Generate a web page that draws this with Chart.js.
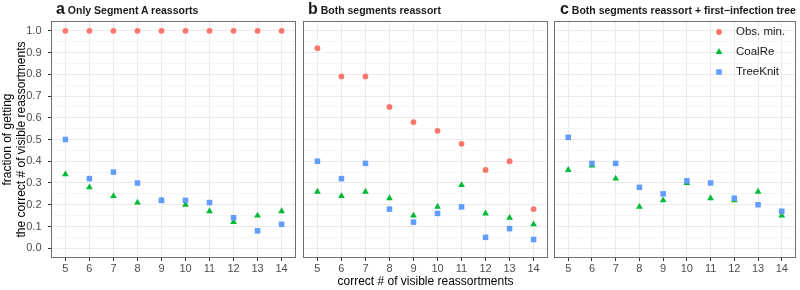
<!DOCTYPE html>
<html>
<head>
<meta charset="utf-8">
<script src="https://cdn.jsdelivr.net/npm/chart.js@4.4.0/dist/chart.umd.min.js"></script>
<style>
    body { margin: 0; background: #fff; }
    #wrap { position: relative; width: 800px; height: 290px; font-family: "Liberation Sans", Arial, sans-serif; }
    #wrap canvas { position: absolute; left: 0; top: 0; }
    .ptitle { position: absolute; top: 0; line-height: 18px; font-weight: bold; color: #1a1a1a; white-space: nowrap; }
    .ptitle b { font-size: 16px; }
    .ptitle span { font-size: 10.5px; }
</style>
</head>
<body>
<div id="wrap">
    <canvas id="chartA" width="800" height="290"></canvas>
    <canvas id="chartB" width="800" height="290"></canvas>
    <canvas id="chartC" width="800" height="290"></canvas>
    <div class="ptitle" style="left:56px"><b>a</b><span> Only Segment A reassorts</span></div>
    <div class="ptitle" style="left:308px"><b>b</b><span> Both segments reassort</span></div>
    <div class="ptitle" style="left:560px"><b>c</b><span> Both segments reassort + first−infection tree</span></div>
</div>
<script>
// correct # of visible reassortments
const counts = [5, 6, 7, 8, 9, 10, 11, 12, 13, 14];

// y grid: majors carry a label, minors in between
const yGrid = [0, 0.05, 0.1, 0.15, 0.2, 0.25, 0.3, 0.35, 0.4, 0.45, 0.5, 0.55, 0.6, 0.65, 0.7, 0.75, 0.8, 0.85, 0.9, 0.95, 1.0];
const yTickLabels = ['0.0', '0.1', '0.2', '0.3', '0.4', '0.5', '0.6', '0.7', '0.8', '0.9', '1.0'];

// panel a: Only Segment A reassorts
const obsA = [1, 1, 1, 1, 1, 1, 1, 1, 1, 1];
const coalA = [0.34, 0.28, 0.24, 0.21, 0.22, 0.20, 0.17, 0.12, 0.15, 0.17];
const treeA = [0.50, 0.32, 0.35, 0.30, 0.22, 0.22, 0.21, 0.14, 0.08, 0.11];

// panel b: Both segments reassort
const obsB = [0.92, 0.79, 0.79, 0.65, 0.58, 0.54, 0.48, 0.36, 0.40, 0.18];
const coalB = [0.26, 0.24, 0.26, 0.23, 0.15, 0.19, 0.29, 0.16, 0.14, 0.11];
const treeB = [0.40, 0.32, 0.39, 0.18, 0.12, 0.16, 0.19, 0.05, 0.09, 0.04];

// panel c: Both segments reassort + first-infection tree
const coalC = [0.36, 0.38, 0.32, 0.19, 0.22, 0.30, 0.23, 0.22, 0.26, 0.15];
const treeC = [0.51, 0.39, 0.39, 0.28, 0.25, 0.31, 0.30, 0.23, 0.20, 0.17];

const methods = ['Obs. min.', 'CoalRe', 'TreeKnit'];
const styles = {
    'Obs. min.': { color: '#F8766D', pointStyle: 'circle', radius: 2.9, order: 3 },
    'CoalRe': { color: '#00BA38', pointStyle: 'triangle', radius: 3.9, order: 2 },
    'TreeKnit': { color: '#619CFF', pointStyle: 'rect', radius: 3.9, order: 1 }
};

Chart.defaults.font.family = "'Liberation Sans', Arial, sans-serif";
Chart.defaults.animation = false;

// Panel frame (ggplot-style border round the plot area)
const frame = {
    id: 'frame',
    afterDraw(chart) {
        const a = chart.chartArea;
        const ctx = chart.ctx;
        ctx.save();
        ctx.strokeStyle = '#707070';
        ctx.lineWidth = 1;
        ctx.strokeRect(Math.round(a.left) + 0.5, Math.round(a.top) + 0.5, Math.round(a.width) - 1, Math.round(a.height) - 1);
        ctx.restore();
    }
};

// Legend drawn inside the top-right corner of panel c
const insideLegend = {
    id: 'insideLegend',
    afterDraw(chart) {
        const ctx = chart.ctx;
        ctx.save();
        methods.forEach((name, i) => {
            const s = styles[name];
            const y = 32 + i * 20;
            ctx.fillStyle = s.color;
            Chart.helpers.drawPoint(ctx, { pointStyle: s.pointStyle, radius: s.radius, rotation: 0, borderWidth: 0 }, 719, y);
            ctx.fillStyle = '#1a1a1a';
            ctx.font = "11.5px 'Liberation Sans', Arial, sans-serif";
            ctx.textBaseline = 'middle';
            ctx.textAlign = 'left';
            ctx.fillText(name, 736, y);
        });
        ctx.restore();
    }
};

function makeDataset(name, values) {
    const s = styles[name];
    return {
        label: name,
        data: counts.map((c, i) => ({ x: c, y: values[i] })),
        backgroundColor: s.color,
        pointStyle: s.pointStyle,
        pointRadius: s.radius,
        pointBorderWidth: 0,
        order: s.order
    };
}

// left/right: plot-area edges in page pixels
function makePanel(id, left, right, datasets, opts) {
    const yWidth = opts.yAxis ? left : 0;
    const plugins = [frame];
    if (opts.legend) plugins.push(insideLegend);
    return new Chart(document.getElementById(id), {
        type: 'scatter',
        data: { datasets: datasets },
        plugins: plugins,
        options: {
            responsive: false,
            layout: { padding: { left: left - yWidth, right: 800 - right, top: 21, bottom: 0 } },
            plugins: { legend: { display: false }, tooltip: { enabled: false } },
            scales: {
                x: {
                    type: 'linear',
                    min: 4.4,
                    max: 14.6,
                    afterBuildTicks: s => { s.ticks = counts.map(v => ({ value: v })); },
                    afterFit: s => { s.height = 32; },
                    grid: { color: '#ebebeb', tickColor: '#333333', tickLength: 3 },
                    border: { display: false },
                    ticks: { color: '#4d4d4d', font: { size: 11 }, padding: 1, maxRotation: 0, autoSkip: false, callback: v => String(v) },
                    title: {
                        display: !!opts.xTitle,
                        text: 'correct # of visible reassortments',
                        color: '#000',
                        font: { size: 12 },
                        padding: { top: 0, bottom: 1 }
                    }
                },
                y: {
                    min: -0.045,
                    max: 1.045,
                    afterBuildTicks: s => { s.ticks = yGrid.map(v => ({ value: v })); },
                    afterFit: s => { s.width = yWidth; },
                    grid: {
                        color: c => c.index % 2 === 0 ? '#ebebeb' : '#f5f5f5',
                        tickColor: c => c.index % 2 === 0 ? '#333333' : 'rgba(0,0,0,0)',
                        tickLength: 3,
                        drawTicks: !!opts.yAxis
                    },
                    border: { display: false },
                    ticks: {
                        display: !!opts.yAxis,
                        color: '#4d4d4d',
                        font: { size: 11 },
                        padding: 6.5,
                        autoSkip: false,
                        callback: (v, i) => i % 2 === 0 ? yTickLabels[i / 2] : ''
                    },
                    title: {
                        display: !!opts.yAxis,
                        text: ['fraction of getting', 'the correct # of visible reassortments'],
                        color: '#000',
                        font: { size: 12, lineHeight: 1.1 },
                        padding: { top: 1.4, bottom: 0 }
                    }
                }
            }
        }
    });
}

makePanel('chartA', 51, 296, [
    makeDataset('Obs. min.', obsA),
    makeDataset('CoalRe', coalA),
    makeDataset('TreeKnit', treeA)
], { yAxis: true });

makePanel('chartB', 303, 548, [
    makeDataset('Obs. min.', obsB),
    makeDataset('CoalRe', coalB),
    makeDataset('TreeKnit', treeB)
], { xTitle: true });

makePanel('chartC', 554, 797, [
    makeDataset('CoalRe', coalC),
    makeDataset('TreeKnit', treeC)
], { legend: true });
</script>
</body>
</html>
